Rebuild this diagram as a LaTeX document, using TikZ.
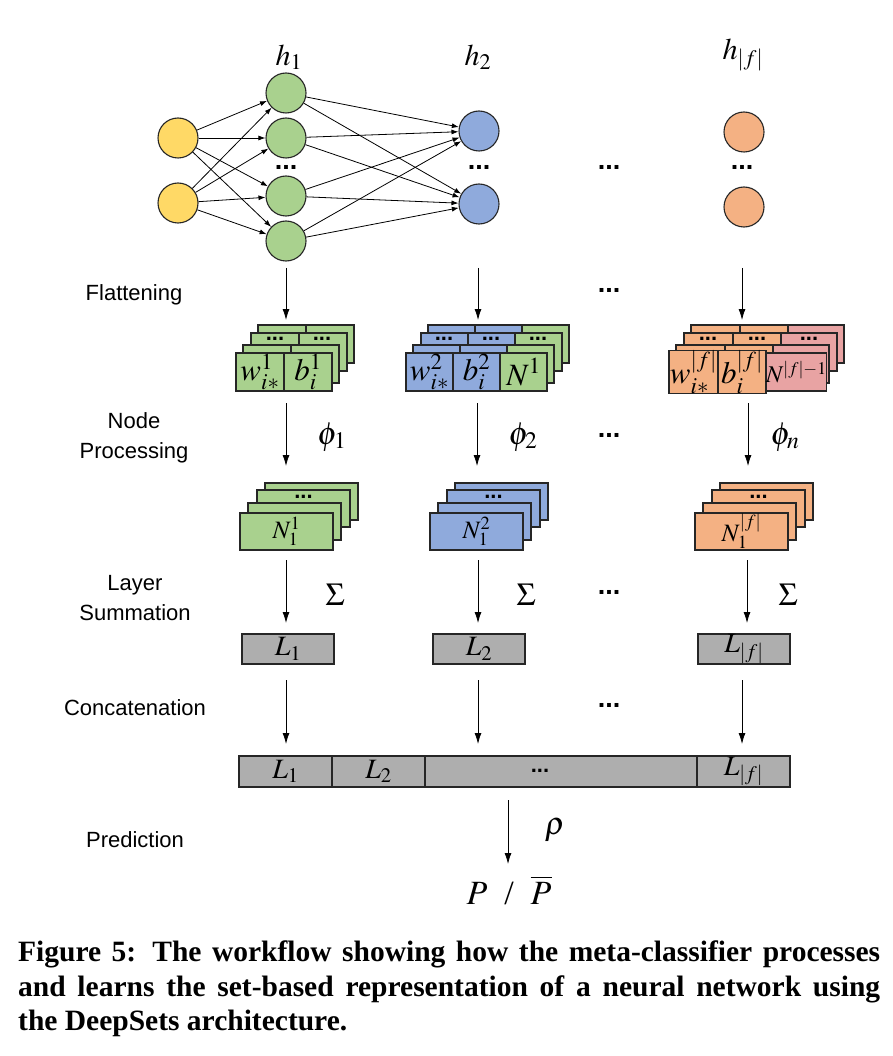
\documentclass[tikz,border=0pt]{standalone}
\usepackage{mathptmx}
\usepackage[no-math]{fontspec}
\setmainfont{Liberation Serif}
\setsansfont{Liberation Sans}
\usetikzlibrary{positioning,arrows.meta}

\definecolor{greenc}{HTML}{A9D18E}
\definecolor{bluec}{HTML}{8FAADC}
\definecolor{orangec}{HTML}{F4B183}
\definecolor{yellowc}{HTML}{FFD966}
\definecolor{pinkc}{HTML}{E8A3A3}
\definecolor{grayc}{HTML}{AEAEAE}

\tikzstyle{neuron} = [draw=black!85, circle, minimum size=40pt, inner sep=0pt, line width=1.1pt]
\tikzstyle{cell} = [draw=black!85, rectangle, line width=1.3pt, minimum height=38pt,
    inner sep=0pt, outer sep=0pt, font=\fontsize{31}{32}\selectfont]
\tikzstyle{layer} = [draw=black!85, line width=1.3pt]
\tikzstyle{nbox} = [draw=black!85, rectangle, line width=1.3pt, minimum width=93pt,
    minimum height=37pt, inner sep=0pt, outer sep=0pt, font=\fontsize{25}{26}\selectfont]
\tikzstyle{lbox} = [draw=black!85, fill=grayc, rectangle, line width=1.3pt, minimum width=92pt,
    minimum height=30pt, inner sep=0pt, outer sep=0pt, font=\fontsize{28}{29}\selectfont]
\tikzstyle{stage} = [font=\sffamily\fontsize{22}{30}\selectfont, align=center]
\tikzstyle{mlab} = [font=\fontsize{32}{34}\selectfont, inner sep=0pt]
\tikzstyle{ellip} = [font=\sffamily\bfseries\fontsize{27}{27}\selectfont, inner sep=0pt]
\tikzstyle{sellip} = [font=\sffamily\bfseries\fontsize{22}{22}\selectfont, inner sep=0pt]
\tikzstyle{link} = [-{Latex[length=7pt,width=5pt]}, line width=0.8pt]
\tikzstyle{flow} = [-{Latex[length=11pt,width=7pt]}, line width=0.8pt]

\begin{document}
\begin{tikzpicture}[x=1pt, y=-1pt]
    \useasboundingbox (0,0) rectangle (892,1056);

    % network
    \node [neuron, fill=yellowc] (in1) at (178,138) {};
    \node [neuron, fill=yellowc] (in2) at (178,203) {};
    \node [neuron, fill=greenc] (g1) at (286,93) {};
    \node [neuron, fill=greenc] (g2) at (286,138) {};
    \node [neuron, fill=greenc] (g3) at (286,196) {};
    \node [neuron, fill=greenc] (g4) at (286,241) {};
    \node [neuron, fill=bluec] (u1) at (479,131) {};
    \node [neuron, fill=bluec] (u2) at (479,204) {};
    \node [neuron, fill=orangec] (o1) at (744,132) {};
    \node [neuron, fill=orangec] (o2) at (744,207) {};
    \node [mlab, font=\fontsize{30}{32}\selectfont] (h1) at (289,57) {$h_1$};
    \node [mlab, font=\fontsize{30}{32}\selectfont] (h2) at (478,57) {$h_2$};
    \node [mlab, font=\fontsize{30}{32}\selectfont] (hf) at (743,55) {$h_{|f|}$};
    \node [ellip] (gdots) at (286,167) {...};
    \node [ellip] (udots) at (479,167) {...};
    \node [ellip] (odots) at (742,167) {...};
    \node [ellip] (mdots1) at (609,167) {...};
    \foreach \i in {1,2}
        \foreach \j in {1,...,4}
            \draw [link] (in\i) -- (g\j);
    \foreach \j in {1,...,4}
        \foreach \k in {1,2}
            \draw [link] (g\j) -- (u\k);

    % stage labels
    \node [stage] (flat) at (134,295) {Flattening};
    \node [stage] (proc) at (134,438) {Node\\Processing};
    \node [stage] (summ) at (135,598) {Layer\\Summation};
    \node [stage] (conc) at (135,708) {Concatenation};
    \node [stage] (pred) at (135,840) {Prediction};

    % flattening
    \coordinate (f1a) at (286,268);
    \coordinate (f1b) at (286,320);
    \coordinate (f2a) at (478,268);
    \coordinate (f2b) at (478,320);
    \coordinate (f3a) at (742,268);
    \coordinate (f3b) at (742,320);
    \draw [flow] (f1a) -- (f1b);
    \draw [flow] (f2a) -- (f2b);
    \draw [flow] (f3a) -- (f3b);
    \node [ellip] (mdots2) at (609,290) {...};

    \foreach \dx/\dy in {22/-28,15/-20,7/-8} {
        \draw [layer, fill=greenc] (236+\dx,353+\dy) rectangle +(48,38);
        \draw [layer, fill=greenc] (284+\dx,353+\dy) rectangle +(48,38);
        \draw [layer, fill=bluec] (406+\dx,353+\dy) rectangle +(47,38);
        \draw [layer, fill=bluec] (453+\dx,353+\dy) rectangle +(47,38);
        \draw [layer, fill=greenc] (500+\dx,353+\dy) rectangle +(47,38);
        \draw [layer, fill=orangec] (669+\dx,353+\dy) rectangle +(49,38);
        \draw [layer, fill=orangec] (718+\dx,353+\dy) rectangle +(48,38);
        \draw [layer, fill=pinkc] (766+\dx,353+\dy) rectangle +(56,38);
    }
    \node [sellip] (d11) at (275,339) {...};
    \node [sellip] (d12) at (322,339) {...};
    \node [sellip] (d21) at (444,339) {...};
    \node [sellip] (d22) at (491,339) {...};
    \node [sellip] (d23) at (538,339) {...};
    \node [sellip] (d31) at (708,339) {...};
    \node [sellip] (d32) at (757,339) {...};
    \node [sellip] (d33) at (809,339) {...};

    \node [cell, fill=greenc, minimum width=48pt] (w1) at (260,372) {$w^{1}_{i*}$};
    \node [cell, fill=greenc, minimum width=48pt, right=0pt of w1] (b1) {$b^{1}_{i}$};
    \node [cell, fill=bluec, minimum width=47pt] (w2) at (429.5,372) {$w^{2}_{i*}$};
    \node [cell, fill=bluec, minimum width=47pt, right=0pt of w2] (b2) {$b^{2}_{i}$};
    \node [cell, fill=greenc, minimum width=47pt, right=0pt of b2] (n2) {$N^{1}$};
    \node [cell, fill=orangec, minimum width=49pt] (wf) at (693.5,372) {$w^{|f|}_{i*}$};
    \node [cell, fill=orangec, minimum width=48pt, right=0pt of wf] (bf) {$b^{|f|}_{i}$};
    \node [cell, fill=pinkc, minimum width=56pt, right=0pt of bf,
        font=\fontsize{24}{25}\selectfont] (nf) {$N^{|f|-1}$};

    % node processing
    \coordinate (p1a) at (286,403);
    \coordinate (p1b) at (286,466);
    \coordinate (p2a) at (477,403);
    \coordinate (p2b) at (477,466);
    \coordinate (p3a) at (748,403);
    \coordinate (p3b) at (748,466);
    \draw [flow] (p1a) -- (p1b);
    \draw [flow] (p2a) -- (p2b);
    \draw [flow] (p3a) -- (p3b);
    \node [mlab] (phi1) at (332,437) {$\phi_1$};
    \node [mlab] (phi2) at (523,437) {$\phi_2$};
    \node [mlab] (phin) at (785,437) {$\phi_n$};
    \node [ellip] (mdots3) at (609,435) {...};

    \foreach \dx/\dy in {25/-30,17/-23,8/-10} {
        \draw [layer, fill=greenc] (240+\dx,513+\dy) rectangle +(93,37);
        \draw [layer, fill=bluec] (430+\dx,513+\dy) rectangle +(93,37);
        \draw [layer, fill=orangec] (695+\dx,513+\dy) rectangle +(93,37);
    }
    \node [sellip] (e1) at (303.5,497) {...};
    \node [sellip] (e2) at (493.5,497) {...};
    \node [sellip] (e3) at (758.5,497) {...};
    \node [nbox, fill=greenc] (n1) at (286.5,531.5) {$N^{1}_{1}$};
    \node [nbox, fill=bluec] (n2b) at (476.5,531.5) {$N^{2}_{1}$};
    \node [nbox, fill=orangec] (n3) at (741.5,531.5) {$N^{|f|}_{1}$};

    % layer summation
    \coordinate (s1a) at (286,560);
    \coordinate (s1b) at (286,623);
    \coordinate (s2a) at (478,560);
    \coordinate (s2b) at (478,623);
    \coordinate (s3a) at (747,560);
    \coordinate (s3b) at (747,623);
    \draw [flow] (s1a) -- (s1b);
    \draw [flow] (s2a) -- (s2b);
    \draw [flow] (s3a) -- (s3b);
    \node [mlab] (sig1) at (335,595) {$\Sigma$};
    \node [mlab] (sig2) at (526,595) {$\Sigma$};
    \node [mlab] (sig3) at (788,595) {$\Sigma$};
    \node [ellip] (mdots4) at (609,592) {...};

    \node [lbox] (l1) at (288,649) {$L_1$};
    \node [lbox] (l2) at (479,649) {$L_2$};
    \node [lbox] (lf) at (744,649) {$L_{|f|}$};

    % concatenation
    \coordinate (c1a) at (286,680);
    \coordinate (c1b) at (286,744);
    \coordinate (c2a) at (478,680);
    \coordinate (c2b) at (478,744);
    \coordinate (c3a) at (742,680);
    \coordinate (c3b) at (742,744);
    \draw [flow] (c1a) -- (c1b);
    \draw [flow] (c2a) -- (c2b);
    \draw [flow] (c3a) -- (c3b);
    \node [ellip] (mdots5) at (609,705) {...};

    \node [lbox, minimum width=93pt, minimum height=31pt] (cat1) at (285.5,771.5) {$L_1$};
    \node [lbox, minimum width=93pt, minimum height=31pt, right=0pt of cat1] (cat2) {$L_2$};
    \node [lbox, minimum width=272pt, minimum height=31pt, right=0pt of cat2] (catm) {};
    \node [lbox, minimum width=93pt, minimum height=31pt, right=0pt of catm] (catf) {$L_{|f|}$};
    \node [sellip] (catdots) at (540,771) {...};

    % prediction
    \coordinate (r1) at (508,800);
    \coordinate (r2) at (508,864);
    \draw [flow] (r1) -- (r2);
    \node [mlab] (rho) at (555,830) {$\rho$};
    \node [mlab, font=\fontsize{34}{36}\selectfont] (out) at (509,890)
        {$P$\enspace/\enspace$\overline{P}$};

    % caption
    \node [anchor=north west, inner sep=0pt, text width=862pt, align=justify,
        font=\bfseries\fontsize{29.5}{34.5}\selectfont] (cap) at (18,941)
        {Figure 5: The workflow showing how the meta-classifier processes\linebreak
        and learns the set-based representation of a neural network using\linebreak
        the DeepSets architecture.};
\end{tikzpicture}
\end{document}
